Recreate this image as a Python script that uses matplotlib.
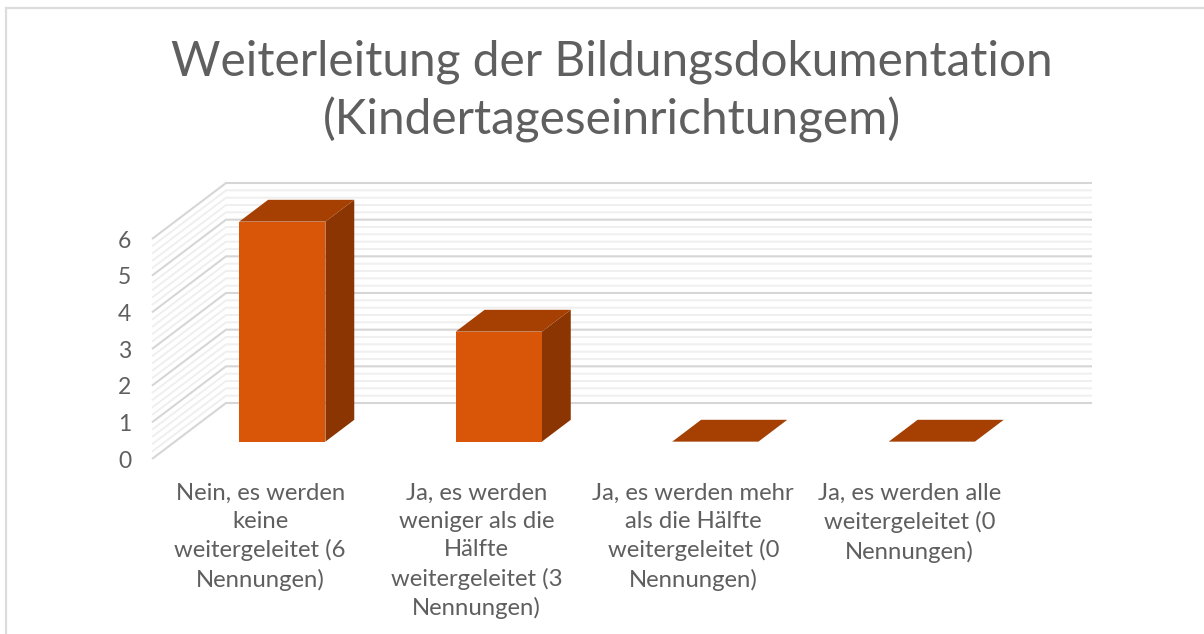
import matplotlib
matplotlib.use("Agg")
import matplotlib.pyplot as plt
from matplotlib.patches import Polygon, Rectangle

OUTPUT_FIG = "out.png"

TITLE = "Weiterleitung der Bildungsdokumentation\n(Kindertageseinrichtungem)"
categories = [
    "Nein, es werden\nkeine\nweitergeleitet (6\nNennungen)",
    "Ja, es werden\nweniger als die\nHälfte\nweitergeleitet (3\nNennungen)",
    "Ja, es werden mehr\nals die Hälfte\nweitergeleitet (0\nNennungen)",
    "Ja, es werden alle\nweitergeleitet (0\nNennungen)",
]
values = [6, 3, 0, 0]
y_ticks = [0, 1, 2, 3, 4, 5, 6]

W, H = 1204, 634
#floor front edge in pixels, the wall runs from here to DEPTH further back
LEFT, RIGHT, BOTTOM, TOP = 152, 1018, 459, 239
DEPTH_X = 74 / ((RIGHT - LEFT) / len(categories))
DEPTH_Y = 56 / ((BOTTOM - TOP) / max(y_ticks))
BAR_W = 0.398
BAR_SHIFT = -0.004
Z_FRONT, Z_BACK = 0.31, 0.70

TEXT_COL = "#5f5f5f"
FRONT_COL = "#D95608"
TOP_COL = "#A54002"
SIDE_COL = "#8A3502"


#oblique projection: z=0 is the front of the floor, z=1 the back wall
def project(x, v, z):
    return x + z * DEPTH_X, v + z * DEPTH_Y


def draw_grid(ax):
    n_cat = len(categories)
    for step in range(31):
        v = step / 5
        major = step % 5 == 0
        xs, ys = zip(project(0, v, 0), project(0, v, 1), project(n_cat, v, 1))
        ax.plot(xs, ys, color="#d6d6d6" if major else "#efefef",
                lw=1.5 if major else 1.4, zorder=2 if major else 1,
                clip_on=False, solid_capstyle="butt", solid_joinstyle="miter")


def draw_bar(ax, pos, val):
    centre = pos + 0.5 + BAR_SHIFT
    x0, x1 = centre - BAR_W / 2, centre + BAR_W / 2
    side = [project(x1, 0, Z_FRONT), project(x1, 0, Z_BACK),
            project(x1, val, Z_BACK), project(x1, val, Z_FRONT)]
    top = [project(x0, val, Z_FRONT), project(x1, val, Z_FRONT),
           project(x1, val, Z_BACK), project(x0, val, Z_BACK)]
    front = [project(x0, 0, Z_FRONT), project(x1, 0, Z_FRONT),
             project(x1, val, Z_FRONT), project(x0, val, Z_FRONT)]
    if val > 0:
        ax.add_patch(Polygon(side, fc=SIDE_COL, ec="none", zorder=3, clip_on=False))
        ax.add_patch(Polygon(front, fc=FRONT_COL, ec="none", zorder=4, clip_on=False))
    ax.add_patch(Polygon(top, fc=TOP_COL, ec="none", zorder=3, clip_on=False))


def main():
    plt.rcParams["font.family"] = ["Lato", "DejaVu Sans"]
    fig = plt.figure(figsize=(W / 100, H / 100), dpi=100)
    fig.add_artist(Rectangle((6 / W, -0.1), 1.1, 1 - 8 / H + 0.1,
                             transform=fig.transFigure, fc="none",
                             ec="#dcdcdc", lw=1.6))

    ax = fig.add_axes([LEFT / W, 1 - BOTTOM / H, (RIGHT - LEFT) / W, (BOTTOM - TOP) / H])
    ax.patch.set_alpha(0)
    ax.set_xlim(0, len(categories))
    ax.set_ylim(0, max(y_ticks))
    for spine in ax.spines.values():
        spine.set_visible(False)

    ax.set_yticks(y_ticks)
    ax.tick_params(axis="y", length=0, pad=15, labelsize=16.5, labelcolor=TEXT_COL)
    ax.set_xticks([i + 0.5 for i in range(len(categories))])
    ax.set_xticklabels(categories, linespacing=1.42)
    ax.tick_params(axis="x", length=0, pad=17, labelsize=17.2, labelcolor=TEXT_COL)

    draw_grid(ax)
    for pos, val in enumerate(values):
        draw_bar(ax, pos, val)

    fig.text(612 / W, 1 - 91 / H, TITLE, ha="center", va="center", fontsize=34.4,
             color=TEXT_COL, linespacing=1.33)

    fig.savefig(OUTPUT_FIG, dpi=100)


if __name__ == "__main__":
    main()
